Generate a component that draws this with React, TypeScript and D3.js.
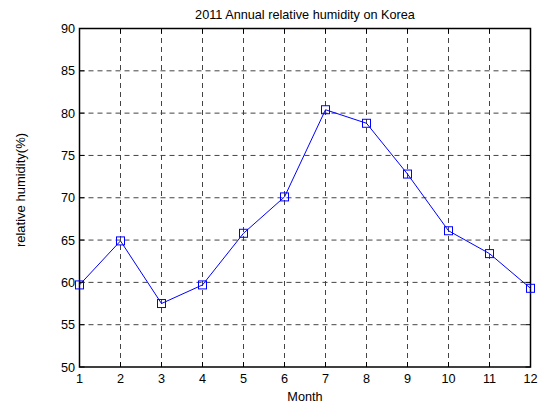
import React from "react";
import * as d3 from "d3";

const months = [1, 2, 3, 4, 5, 6, 7, 8, 9, 10, 11, 12];
const humidity = [59.7, 64.9, 57.5, 59.7, 65.8, 70.1, 80.4, 78.8, 72.8, 66.1, 63.4, 59.3];
const yTicks = [50, 55, 60, 65, 70, 75, 80, 85, 90];
const xTicks = months;

const W = 544;
const H = 406;
const margin = { left: 79.5, right: 13.5, top: 28.5, bottom: 39 };
const FONT = "'Liberation Sans', Arial, Helvetica, sans-serif";
const FS = 12.7;

export default function App() {
  const x = d3.scaleLinear().domain([1, 12]).range([margin.left, W - margin.right]);
  const y = d3.scaleLinear().domain([50, 90]).range([H - margin.bottom, margin.top]);
  const line = d3
    .line<number>()
    .x((_, i) => x(months[i]))
    .y((d) => y(d));
  const [x0, x1] = x.range();
  const [y0, y1] = y.range();
  const tick = 5;
  const gridColor = "#444";
  const dash = "5,4";
  const m = 4;

  return (
    <svg
      width={W}
      height={H}
      style={{ position: "absolute", left: 0, top: 0, background: "#fff" }}
      fontFamily={FONT}
    >
      <rect x={0} y={0} width={W} height={H} fill="#fff" />
      {/* grid */}
      {xTicks.slice(1, -1).map((t) => (
        <line key={"gx" + t} x1={x(t)} x2={x(t)} y1={y0} y2={y1} stroke={gridColor} strokeDasharray={dash} />
      ))}
      {yTicks.slice(1, -1).map((t) => (
        <line key={"gy" + t} x1={x0} x2={x1} y1={y(t)} y2={y(t)} stroke={gridColor} strokeDasharray={dash} />
      ))}
      {/* ticks on all four sides */}
      {xTicks.map((t) => (
        <g key={"tx" + t}>
          <line x1={x(t)} x2={x(t)} y1={y0} y2={y0 - tick} stroke="#000" />
          <line x1={x(t)} x2={x(t)} y1={y1} y2={y1 + tick} stroke="#000" />
          <text x={x(t)} y={y0 + 16} fontSize={FS} textAnchor="middle" fill="#000">
            {t}
          </text>
        </g>
      ))}
      {yTicks.map((t) => (
        <g key={"ty" + t}>
          <line x1={x0} x2={x0 + tick} y1={y(t)} y2={y(t)} stroke="#000" />
          <line x1={x1} x2={x1 - tick} y1={y(t)} y2={y(t)} stroke="#000" />
          <text x={x0 - 4.5} y={y(t) + 4.5} fontSize={FS} textAnchor="end" fill="#000">
            {t}
          </text>
        </g>
      ))}
      {/* axes box */}
      <rect x={x0} y={y1} width={x1 - x0} height={y0 - y1} fill="none" stroke="#000" strokeWidth={1.5} />
      {/* series */}
      <path d={line(humidity) || ""} fill="none" stroke="#0000ff" strokeWidth={1} />
      {humidity.map((v, i) => (
        <rect
          key={"m" + i}
          x={x(months[i]) - m}
          y={y(v) - m}
          width={2 * m}
          height={2 * m}
          fill="none"
          stroke="#0000ff"
          strokeWidth={1}
        />
      ))}
      {/* labels */}
      <text x={(x0 + x1) / 2} y={18.5} fontSize={FS} textAnchor="middle" fill="#000">
        2011 Annual relative humidity on Korea
      </text>
      <text x={(x0 + x1) / 2} y={401} fontSize={FS} textAnchor="middle" fill="#000">
        Month
      </text>
      <text
        transform={`translate(24.5,190) rotate(-90)`}
        fontSize={13}
        textAnchor="middle"
        fill="#000"
      >
        relative humidity(%)
      </text>
    </svg>
  );
}
